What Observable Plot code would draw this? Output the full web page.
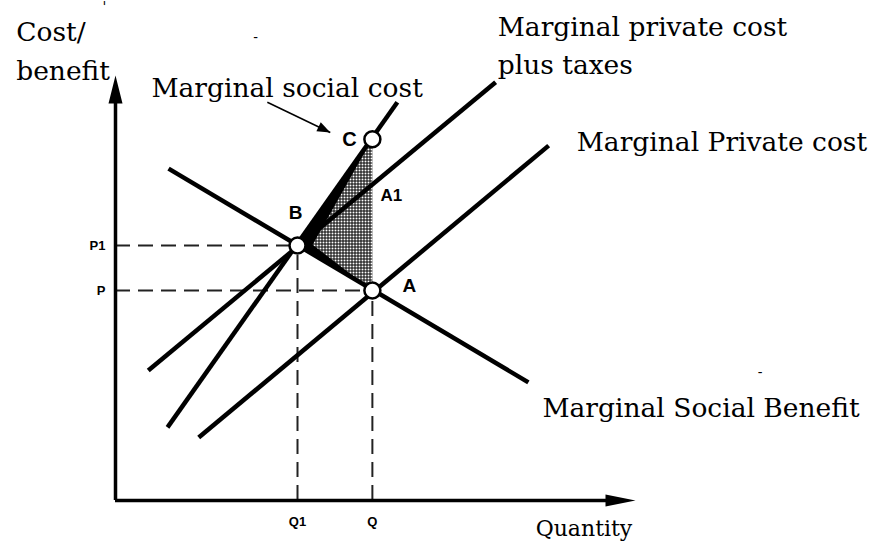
<!DOCTYPE html>
<html><head><meta charset="utf-8">
<script src="https://cdn.jsdelivr.net/npm/d3@7"></script>
<script src="https://cdn.jsdelivr.net/npm/@observablehq/plot@0.6"></script>
<style>body{margin:0;background:#fff} #chart svg{display:block}</style>
</head><body><div id="chart"></div>
<script>
// Data units: quantity (x) 0..10, cost/benefit (y) 0..10
const Q1 = 3.5, Q = 4.94;          // quantities
const P1 = 6.0, P = 4.94;          // prices
const C_VAL = 8.5, A1_VAL = 7.44;  // MSC and MPC+tax at Q

const curves = [
  {name: "Marginal Social Benefit",          x1: 1.02, y1: 7.81, x2: 7.94, y2: 2.78},
  {name: "Marginal Private cost",            x1: 1.60, y1: 1.48, x2: 8.33, y2: 8.35},
  {name: "Marginal private cost plus taxes", x1: 0.63, y1: 3.06, x2: 7.31, y2: 9.84},
  {name: "Marginal social cost",             x1: 1.00, y1: 1.72, x2: 5.42, y2: 9.37}
];

const points = [
  {label: "B", x: Q1, y: P1},
  {label: "A", x: Q,  y: P},
  {label: "C", x: Q,  y: C_VAL}
];

const shade = [
  {x: Q1, y: P1}, {x: Q, y: C_VAL}, {x: Q, y: P}
];
const darkEdge = [
  {x: Q, y: C_VAL}, {x: Q1, y: P1}, {x: Q, y: P},
  {x: 4.75, y: 5.11}, {x: 3.79, y: 6.02}, {x: 4.79, y: 8.19}
];

const curveLabels = [
  {text: "Marginal social cost",    x: 0.69, y: 9.70},
  {text: "Marginal private cost",   x: 7.35, y: 11.14},
  {text: "plus taxes",              x: 7.35, y: 10.24},
  {text: "Marginal Private cost",   x: 8.87, y: 8.43},
  {text: "Marginal Social Benefit", x: 8.21, y: 2.17}
];
const axisTitles = [
  {text: "Cost/",    x: -1.91, y: 11.02},
  {text: "benefit",  x: -1.91, y: 10.10}
];
const xTitle = [{text: "Quantity", x: 8.08, y: -0.66}];
const yTicks = [{text: "P1", y: P1}, {text: "P", y: P}];
const xTicks = [{text: "Q1", x: Q1}, {text: "Q", x: Q}];
const annotationArrow = [{x1: 2.92, y1: 9.37, x2: 4.13, y2: 8.66}];
const strayMarks = [
  {text: "-", x: 2.65, y: 10.9},
  {text: "'", x: -0.25, y: 11.6},
  {text: "-", x: 12.35, y: 3.0}
];

const headY = {draw(ctx) { ctx.moveTo(0, 0); ctx.lineTo(7, 28); ctx.lineTo(-7, 28); ctx.closePath(); }};
const headX = {draw(ctx) { ctx.moveTo(0, 0); ctx.lineTo(6, 30); ctx.lineTo(-6, 30); ctx.closePath(); }};
const headSmall = {draw(ctx) { ctx.moveTo(0, 0); ctx.lineTo(5, 13); ctx.lineTo(-5, 13); ctx.closePath(); }};

function defs() {
  const ns = "http://www.w3.org/2000/svg";
  const d = document.createElementNS(ns, "defs");
  d.innerHTML = '<pattern id="dots" width="3" height="3" patternUnits="userSpaceOnUse">' +
    '<rect width="3" height="3" fill="#000"/><rect x="1" y="1" width="2" height="2" fill="#fff"/></pattern>';
  return d;
}

const serif = {fontFamily: "DejaVu Serif", fontSize: 26.5, fill: "#000", textAnchor: "start"};
const boldSans = {fontFamily: "Liberation Sans", fontWeight: "bold", fill: "#000"};

const chart = Plot.plot({
  width: 875, height: 549,
  marginLeft: 115, marginRight: 240, marginTop: 75, marginBottom: 49,
  x: {domain: [0, 10], axis: null},
  y: {domain: [0, 10], axis: null},
  style: {overflow: "visible", background: "#fff"},
  marks: [
    defs,
    Plot.line(shade, {x: "x", y: "y", fill: "url(#dots)", stroke: "none"}),
    Plot.line(darkEdge, {x: "x", y: "y", fill: "#000", stroke: "none"}),
    // dashed guides
    Plot.ruleY(yTicks, {y: "y", x1: 0, x2: d => d.text === "P1" ? Q1 : Q, stroke: "#222", strokeWidth: 2, strokeDasharray: "15,8"}),
    Plot.ruleX(xTicks, {x: "x", y1: 0, y2: d => d.text === "Q1" ? P1 : P, stroke: "#222", strokeWidth: 2, strokeDasharray: "15,8"}),
    // curves
    Plot.link(curves, {x1: "x1", y1: "y1", x2: "x2", y2: "y2", stroke: "#000", strokeWidth: 4.5}),
    // axes
    Plot.ruleX([0], {y1: 0, y2: 9.6, stroke: "#000", strokeWidth: 3.5}),
    Plot.ruleY([0], {x1: 0, x2: 9.6, stroke: "#000", strokeWidth: 3.5}),
    Plot.dot([{x: 0, y: 10}], {x: "x", y: "y", symbol: headY, r: 5, fill: "#000", stroke: "none"}),
    Plot.dot([{x: 10, y: 0}], {x: "x", y: "y", symbol: headX, r: 5, fill: "#000", stroke: "none", rotate: 90}),
    // annotation arrow
    Plot.link(annotationArrow, {x1: "x1", y1: "y1", x2: "x2", y2: "y2", stroke: "#000", strokeWidth: 1.5}),
    Plot.dot(annotationArrow, {x: "x2", y: "y2", symbol: headSmall, r: 5, fill: "#000", stroke: "none", rotate: 116}),
    // equilibrium points
    Plot.dot(points, {x: "x", y: "y", r: 8, fill: "#fff", stroke: "#000", strokeWidth: 2.5}),
    // text
    Plot.text(curveLabels, {x: "x", y: "y", text: "text", ...serif}),
    Plot.text(axisTitles, {x: "x", y: "y", text: "text", ...serif}),
    Plot.text(xTitle, {x: "x", y: "y", text: "text", ...serif, fontSize: 22}),
    Plot.text(strayMarks, {x: "x", y: "y", text: "text", ...serif, fontSize: 14}),
    Plot.text(yTicks, {x: 0, y: "y", text: "text", dx: -10, textAnchor: "end", fontSize: 13, ...boldSans}),
    Plot.text(xTicks, {x: "x", y: 0, text: "text", dy: 21, fontSize: 13, ...boldSans}),
    Plot.text([{label: "B", x: Q1, y: P1}], {x: "x", y: "y", text: "label", dx: -2, dy: -33, fontSize: 19, ...boldSans}),
    Plot.text([{label: "C", x: Q, y: C_VAL}], {x: "x", y: "y", text: "label", dx: -23, dy: 0, fontSize: 20, ...boldSans}),
    Plot.text([{label: "A", x: Q, y: P}], {x: "x", y: "y", text: "label", dx: 37, dy: -5, fontSize: 19, ...boldSans}),
    Plot.text([{label: "A1", x: Q, y: A1_VAL}], {x: "x", y: "y", text: "label", dx: 8, dy: 11, textAnchor: "start", fontSize: 17, ...boldSans})
  ]
});
document.getElementById("chart").appendChild(chart);
</script>
</body></html>
